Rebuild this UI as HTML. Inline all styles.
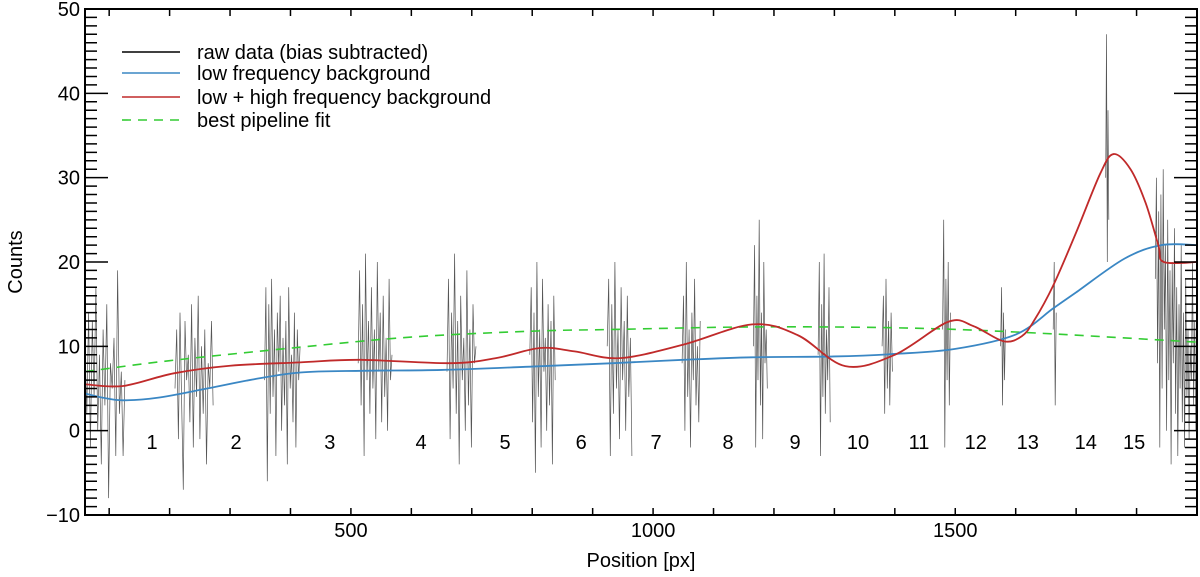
<!DOCTYPE html>
<html><head><meta charset="utf-8"><style>
html,body{margin:0;padding:0;background:#fff;}
svg{display:block;font-family:"Liberation Sans",Helvetica,Arial,sans-serif;}
</style></head><body>
<svg id="chart" width="1200" height="577" viewBox="0 0 1200 577" xmlns="http://www.w3.org/2000/svg">
<g id="plot"></g>
</svg>
<script>
// ---- data ----
const xTicks = [500, 1000, 1500];
const yTicks = [-10, 0, 10, 20, 30, 40, 50];
const slitLabels = ["1","2","3","4","5","6","7","8","9","10","11","12","13","14","15"];
const slitLabelX = [171, 310, 465, 616, 755, 881, 1005, 1124, 1235, 1339, 1440, 1534, 1620, 1716, 1796];
const lowX = [60, 90, 123, 180, 262, 340, 416, 520, 650, 800, 934, 1050, 1164, 1300, 1400, 1500, 1600, 1662, 1700, 1780, 1841, 1900];
const lowY = [4.4, 3.9, 3.6, 3.9, 5.0, 6.1, 6.9, 7.1, 7.2, 7.6, 8.0, 8.4, 8.7, 8.8, 9.1, 9.7, 11.4, 14.5, 16.4, 20.4, 22.0, 22.0];
const highX = [60, 123, 207, 300, 416, 515, 664, 740, 813, 870, 945, 1050, 1164, 1240, 1318, 1400, 1488, 1530, 1580, 1610, 1630, 1662, 1700, 1740, 1762, 1790, 1815, 1836, 1845, 1900];
const highY = [5.5, 5.3, 6.8, 7.7, 8.1, 8.4, 8.0, 8.6, 9.8, 9.4, 8.6, 10.2, 12.6, 11.3, 7.65, 9.0, 12.9, 12.4, 10.6, 11.2, 13.0, 17.2, 23.5, 30.5, 32.8, 31.0, 27.0, 22.0, 20.0, 20.0];
const fitX = [60, 200, 416, 600, 800, 934, 1164, 1400, 1600, 1900];
const fitY = [7.0, 8.3, 9.9, 11.1, 11.8, 12.0, 12.3, 12.2, 11.7, 10.5];
const rawStart = [60, 209, 357, 512, 659, 796, 924, 1048, 1166, 1273, 1379, 1479, 1575, 1662, 1749, 1831];
const rawEnd   = [126, 272, 416, 568, 707, 838, 965, 1078, 1189, 1293, 1396, 1492, 1583, 1667, 1754, 1900];
const rawVals = [
 [10,2,14,-2,13,4,17,0,9,-4,12,3,15,-8,8,5,11,-3,19,2,7,-3,6],
 [5,12,-1,14,3,-7,13,6,9,1,15,-2,11,4,16,-1,10,2,12,-4,8,5,13,3],
 [6,17,-6,15,2,18,4,12,-3,14,7,16,0,11,3,13,-4,17,5,9,1,14,-2,12,6,10],
 [8,19,3,15,-3,21,6,13,2,17,5,12,-1,20,7,14,1,16,4,11,0,18,6,9],
 [7,18,-1,14,5,21,2,13,-4,16,6,11,0,19,3,12,-2,15,8,10],
 [9,17,1,14,-5,20,4,12,-2,18,7,11,0,15,3,13,-4,16,6],
 [10,18,-3,15,2,20,5,12,-1,17,6,13,0,16,4,11,-3],
 [8,16,0,20,4,12,-2,14,6,18,3,10,1,13],
 [10,22,-2,16,6,25,3,14,-1,20,8,12,5],
 [9,20,-3,15,4,21,2,12,6,17,1],
 [10,16,2,18,5,13,3,14,7],
 [12,25,-2,18,6,20,3,14],
 [10,17,3,14,6,12],
 [12,20,3,14],
 [30,47,20,38,25],
 [18,30,8,26,-2,28,5,31,12,22,0,25,6,19,-4,20,8,24,2,17,-3,15,5,22,1,14,-2,18,4,12,-1,10,6,20,3,13,0,11]
];
const legendLabels = ["raw data (bias subtracted)", "low frequency background", "low + high frequency background", "best pipeline fit"];

// ---- layout ----
const L = 85, R = 1197, T = 9, B = 515;
const XMIN = 60, XMAX = 1900, YMIN = -10, YMAX = 50;
const sx = v => L + (v - XMIN) / (XMAX - XMIN) * (R - L);
const sy = v => B - (v - YMIN) / (YMAX - YMIN) * (B - T);
const NS = "http://www.w3.org/2000/svg";
const plot = document.getElementById('plot');
function mk(tag, attrs, parent) {
  const e = document.createElementNS(NS, tag);
  for (const k in attrs) e.setAttribute(k, attrs[k]);
  (parent || plot).appendChild(e);
  return e;
}
function smoothPath(xs, ys) {
  const p = xs.map((x, i) => [sx(x), sy(ys[i])]);
  let d = `M${p[0][0]},${p[0][1]}`;
  for (let i = 0; i < p.length - 1; i++) {
    const p0 = p[Math.max(0, i - 1)], p1 = p[i], p2 = p[i + 1], p3 = p[Math.min(p.length - 1, i + 2)];
    const c1 = [p1[0] + (p2[0] - p0[0]) / 6, p1[1] + (p2[1] - p0[1]) / 6];
    const c2 = [p2[0] - (p3[0] - p1[0]) / 6, p2[1] - (p3[1] - p1[1]) / 6];
    d += ` C${c1[0]},${c1[1]} ${c2[0]},${c2[1]} ${p2[0]},${p2[1]}`;
  }
  return d;
}

// raw data
rawVals.forEach((vals, k) => {
  const n = vals.length;
  const pts = vals.map((v, i) => {
    const x = rawStart[k] + (rawEnd[k] - rawStart[k]) * (n > 1 ? i / (n - 1) : 0);
    return `${sx(x).toFixed(1)},${sy(v).toFixed(1)}`;
  }).join(' ');
  const pl = mk('polyline', {points: pts, fill: 'none', stroke: '#555', 'stroke-width': 0.7});
  
  
});

// curves
const fit = mk('path', {d: smoothPath(fitX, fitY), fill: 'none', stroke: '#33cc33', 'stroke-width': 1.6, 'stroke-dasharray': '9,7'});


const low = mk('path', {d: smoothPath(lowX, lowY), fill: 'none', stroke: '#3a87c4', 'stroke-width': 1.8});


const high = mk('path', {d: smoothPath(highX, highY), fill: 'none', stroke: '#c02a2a', 'stroke-width': 1.8});



// slit labels
slitLabels.forEach((s, i) => {
  const t = mk('text', {x: sx(slitLabelX[i]), y: 449, 'font-size': 20, 'text-anchor': 'middle', fill: '#000'});
  t.textContent = s;
  
  
});

// frame
const frame = mk('rect', {x: L, y: T, width: R - L, height: B - T, fill: 'none', stroke: '#000', 'stroke-width': 2});



// ticks
let td = '';
for (let v = 100; v < XMAX; v += 100) {
  const x = sx(v);
  td += `M${x},${B}V${B - 7}M${x},${T}V${T + 7}`;
}
for (let v = YMIN; v <= YMAX; v += 1) {
  const y = sy(v), len = v % 10 === 0 ? 23 : 12;
  td += `M${L},${y}H${L + len}M${R},${y}H${R - len}`;
}
const ticks = mk('path', {d: td, stroke: '#000', 'stroke-width': 1.5, fill: 'none'});



xTicks.forEach(v => {
  const t = mk('text', {x: sx(v), y: 537, 'font-size': 20, 'text-anchor': 'middle'});
  t.textContent = v;
  
  
});
yTicks.forEach(v => {
  const t = mk('text', {x: 80, y: sy(v) + 7, 'font-size': 20, 'text-anchor': 'end'});
  t.textContent = v < 0 ? '\u2212' + Math.abs(v) : v;
  
  
});
const xt = mk('text', {x: 641, y: 567, 'font-size': 20, 'text-anchor': 'middle'});
xt.textContent = 'Position [px]';


const yt = mk('text', {x: 22, y: 262, 'font-size': 20, 'text-anchor': 'middle', transform: 'rotate(-90 22 262)'});
yt.textContent = 'Counts';



// legend
const legColors = ['#000', '#3a87c4', '#c02a2a', '#33cc33'];
const legY = [52, 73, 97, 120];
legendLabels.forEach((s, i) => {
  const g = mk('g', {});
  
  
  const ln = mk('line', {x1: 122, x2: 180, y1: legY[i], y2: legY[i], stroke: legColors[i], 'stroke-width': 1.6}, g);
  if (i === 3) ln.setAttribute('stroke-dasharray', '9,7');
  const t = mk('text', {x: 197, y: legY[i] + 7, 'font-size': 20}, g);
  t.textContent = s;
});
</script>
</body></html>
